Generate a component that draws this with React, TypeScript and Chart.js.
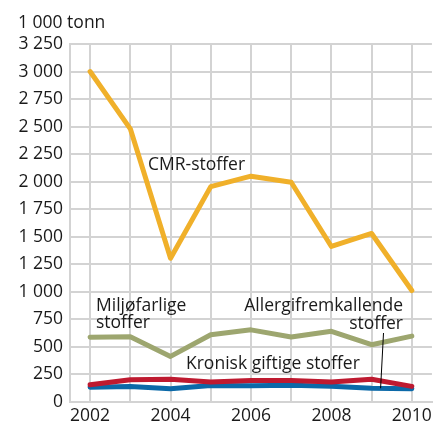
import React, { useEffect, useRef } from "react";
import { Chart, registerables } from "chart.js";

Chart.register(...registerables);

const years = ["2002", "2003", "2004", "2005", "2006", "2007", "2008", "2009", "2010"];
const cmr = [3000, 2480, 1305, 1955, 2050, 1995, 1412, 1530, 1012];
const miljo = [588, 592, 414, 611, 655, 590, 642, 520, 598];
const kronisk = [156, 202, 207, 182, 195, 195, 182, 207, 142];
const allergi = [135, 141, 120, 150, 147, 153, 144, 125, 120];

const FONT = "'Open Sans', 'DejaVu Sans', sans-serif";
const TXT = "#1a1a1a";
const FS = 17.5;

const fmt = (v: number) => String(v).replace(/\B(?=(\d{3})+(?!\d))/g, " ");

const annotations = {
  id: "annotations",
  afterDatasetsDraw(chart: any) {
    const ctx = chart.ctx;
    ctx.save();
    ctx.font = `${FS}px ${FONT}`;
    ctx.fillStyle = TXT;
    ctx.textBaseline = "middle";
    ctx.textAlign = "left";
    ctx.fillText("1 000 tonn", 18, 23);
    ctx.fillText("CMR-stoffer", 148, 165);
    ctx.fillText("Miljøfarlige", 96, 306);
    ctx.fillText("stoffer", 96, 323);
    ctx.fillText("Kronisk giftige stoffer", 186, 364);
    ctx.textAlign = "right";
    ctx.fillText("Allergifremkallende", 403, 306);
    ctx.fillText("stoffer", 403, 324);
    const xs = chart.scales.x;
    const ys = chart.scales.y;
    const px = xs.getPixelForValue(7);
    const py = ys.getPixelForValue(allergi[7]);
    ctx.strokeStyle = "#000";
    ctx.lineWidth = 1;
    ctx.beginPath();
    ctx.moveTo(383.5, 333);
    ctx.lineTo(px + 9, py);
    ctx.stroke();
    ctx.restore();
  },
};

export default function App() {
  const ref = useRef<HTMLCanvasElement | null>(null);
  useEffect(() => {
    if (!ref.current) return;
    const chart = new Chart(ref.current, {
      type: "line",
      data: {
        labels: years,
        datasets: [
          { label: "CMR-stoffer", data: cmr, borderColor: "#F0B02A" },
          { label: "Miljøfarlige stoffer", data: miljo, borderColor: "#9DA66F" },
          { label: "Kronisk giftige stoffer", data: kronisk, borderColor: "#BE1A30" },
          { label: "Allergifremkallende stoffer", data: allergi, borderColor: "#0B69A8" },
        ].map((d) => ({
          ...d,
          borderWidth: 5,
          pointRadius: 0,
          tension: 0,
          fill: false,
          borderJoinStyle: "round" as const,
          borderCapStyle: "round" as const,
        })),
      },
      options: {
        animation: false,
        responsive: false,
        maintainAspectRatio: false,
        layout: { padding: { top: 44, right: 3, left: 0, bottom: 0 } },
        plugins: { legend: { display: false }, tooltip: { enabled: false }, title: { display: false } },
        scales: {
          x: {
            type: "category",
            offset: true,
            grid: { color: "#D3D3D3", lineWidth: 2, drawTicks: false, offset: false },
            border: { color: "#D3D3D3", width: 2 },
            ticks: {
              autoSkip: false,
              maxRotation: 0,
              padding: 4,
              color: TXT,
              font: { family: FONT, size: FS },
              callback: (_v: any, i: number) => (i % 2 === 0 ? years[i] : ""),
            },
            afterFit: (s: any) => {
              s.height = 22;
            },
          },
          y: {
            min: 0,
            max: 3250,
            grid: { color: "#D3D3D3", lineWidth: 2, drawTicks: false },
            border: { color: "#D3D3D3", width: 2 },
            ticks: {
              stepSize: 250,
              padding: 7,
              color: TXT,
              font: { family: FONT, size: FS },
              callback: (v: any) => fmt(Number(v)),
            },
            afterFit: (s: any) => {
              s.width = 70;
            },
          },
        },
      },
      plugins: [annotations],
    });
    return () => chart.destroy();
  }, []);
  return (
    <div style={{ position: "absolute", left: 0, top: 0, width: 436, height: 424, background: "#fff" }}>
      <canvas ref={ref} width={436} height={424} style={{ width: 436, height: 424 }} />
    </div>
  );
}
